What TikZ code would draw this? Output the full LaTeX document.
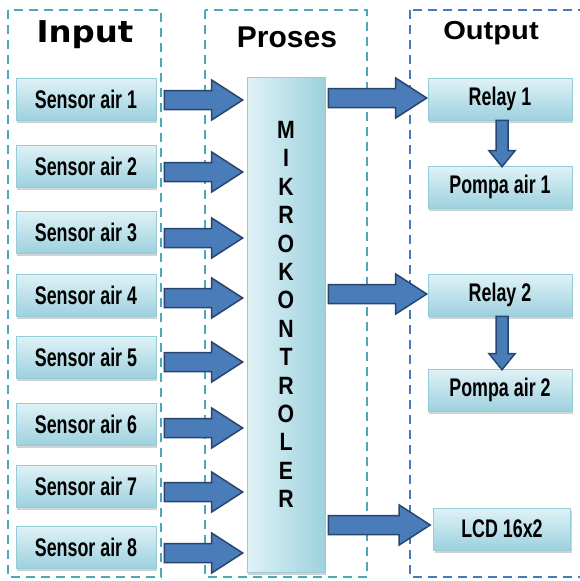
\documentclass[tikz,border=0pt]{standalone}
\usepackage{fontspec}
\usetikzlibrary{calc,shadows}
\newfontfamily\nbf[FakeStretch=0.70]{Liberation Sans Bold}
\newfontfamily\mcufont[FakeStretch=0.85]{Liberation Sans Bold}
\newfontfamily\inputfont[FakeStretch=1.08]{DejaVu Sans Bold}
\newfontfamily\prosesfont{Liberation Sans Bold}
\newfontfamily\outputfont[FakeStretch=1.12]{Liberation Sans Bold}
\definecolor{frameteal}{HTML}{4DA6BC}
\definecolor{frameblue}{HTML}{4A7AB5}
\definecolor{arrowfill}{HTML}{4A7CBA}
\definecolor{arrowline}{HTML}{27466E}
\definecolor{boxline}{HTML}{94CCDA}
\definecolor{boxtop}{HTML}{E0F2F7}
\definecolor{boxbot}{HTML}{9DD1DE}
\tikzset{
  frame/.style={line width=1.8pt, dash pattern=on 9pt off 6pt},
  sbox/.style={rectangle, draw=boxline, line width=0.6pt, top color=boxtop, bottom color=boxbot,
    drop shadow={shadow xshift=1pt, shadow yshift=-2.5pt, opacity=0.35, fill=gray},
    minimum height=42pt, inner sep=0pt, font=\nbf\fontsize{25.5}{28}\selectfont},
  sensorbox/.style={sbox, minimum width=140pt},
  outbox/.style={sbox, minimum width=144pt},
  mcubox/.style={rectangle, draw=boxline, line width=0.6pt, left color=boxtop, right color=boxbot,
    drop shadow={shadow xshift=1pt, shadow yshift=-2.5pt, opacity=0.35, fill=gray},
    minimum width=78pt, minimum height=495pt, inner sep=0pt},
  blockarrow/.style={fill=arrowfill, draw=arrowline, line width=1.5pt, line join=miter},
}
\newcommand{\harrow}[2]{%
  \filldraw[blockarrow] let \p1=(#1), \p2=(#2) in
    (\x1,\y1+9.5pt) -- (\x2-31pt,\y1+9.5pt) -- (\x2-31pt,\y1+20pt) -- (\x2,\y1)
    -- (\x2-31pt,\y1-20pt) -- (\x2-31pt,\y1-9.5pt) -- (\x1,\y1-9.5pt) -- cycle;}
\newcommand{\varrow}[2]{%
  \filldraw[blockarrow] let \p1=(#1), \p2=(#2) in
    (\x1-6pt,\y1) -- (\x1-6pt,\y2+16pt) -- (\x1-13pt,\y2+16pt) -- (\x1,\y2)
    -- (\x1+13pt,\y2+16pt) -- (\x1+6pt,\y2+16pt) -- (\x1+6pt,\y1) -- cycle;}
\begin{document}
\begin{tikzpicture}[x=1pt,y=-1pt]
\useasboundingbox[fill=white] (0,0) rectangle (579,581);
% frames
\draw[frame, frameteal] (8,10) rectangle (161,577);
\draw[frame, frameteal] (205,10) rectangle (367,577);
\draw[frame, frameblue] (410,10) rectangle (584,577);
% titles
\node[font=\inputfont\fontsize{30}{30}\selectfont] (tin) at (85,35) {Input};
\node[font=\prosesfont\fontsize{30}{30}\selectfont] (tpr) at (287,37) {Proses};
\node[font=\outputfont\fontsize{26}{26}\selectfont] (tout) at (491,33) {Output};
% sensors
\node[sensorbox] (s1) at (86,99) {Sensor air 1};
\node[sensorbox] (s2) at (86,166) {Sensor air 2};
\node[sensorbox] (s3) at (86,232) {Sensor air 3};
\node[sensorbox] (s4) at (86,295) {Sensor air 4};
\node[sensorbox] (s5) at (86,357) {Sensor air 5};
\node[sensorbox] (s6) at (86,424) {Sensor air 6};
\node[sensorbox] (s7) at (86,486) {Sensor air 7};
\node[sensorbox] (s8) at (86,547) {Sensor air 8};
% microcontroller
\node[mcubox] (mcu) at (286,324.5) {};
\node[font=\mcufont\fontsize{25}{28.4}\selectfont, align=center, inner sep=0pt] (mcut) at ($(mcu.center)+(0,-10)$)
  {M\\I\\K\\R\\O\\K\\O\\N\\T\\R\\O\\L\\E\\R};
% outputs
\node[outbox] (r1) at (500,99) {Relay 1};
\node[outbox] (p1) at (500,187) {Pompa air 1};
\node[outbox] (r2) at (500,295) {Relay 2};
\node[outbox] (p2) at (500,390) {Pompa air 2};
\node[sbox, minimum width=137pt] (lcd) at (502,529) {LCD 16x2};
% input arrows
\harrow{$(s1.east)+(8,1)$}{$(mcu.west)+(-4,0)$}
\harrow{$(s2.east)+(8,6)$}{$(mcu.west)+(-4,0)$}
\harrow{$(s3.east)+(8,6)$}{$(mcu.west)+(-4,0)$}
\harrow{$(s4.east)+(8,3)$}{$(mcu.west)+(-4,0)$}
\harrow{$(s5.east)+(8,5)$}{$(mcu.west)+(-4,0)$}
\harrow{$(s6.east)+(8,4)$}{$(mcu.west)+(-4,0)$}
\harrow{$(s7.east)+(8,6)$}{$(mcu.west)+(-4,0)$}
\harrow{$(s8.east)+(8,6)$}{$(mcu.west)+(-4,0)$}
% output arrows
\harrow{$(mcu.east |- r1.west)+(3,-1)$}{$(r1.west)+(-1,0)$}
\harrow{$(mcu.east |- r2.west)+(3,-1)$}{$(r2.west)+(-1,0)$}
\harrow{$(mcu.east |- lcd.west)+(3,-4)$}{$(lcd.west)+(-3,0)$}
% relay to pump arrows
\varrow{$(r1.south)+(2,0)$}{$(p1.north)+(2,1)$}
\varrow{$(r2.south)+(2,0)$}{$(p2.north)+(2,1)$}
\end{tikzpicture}
\end{document}
